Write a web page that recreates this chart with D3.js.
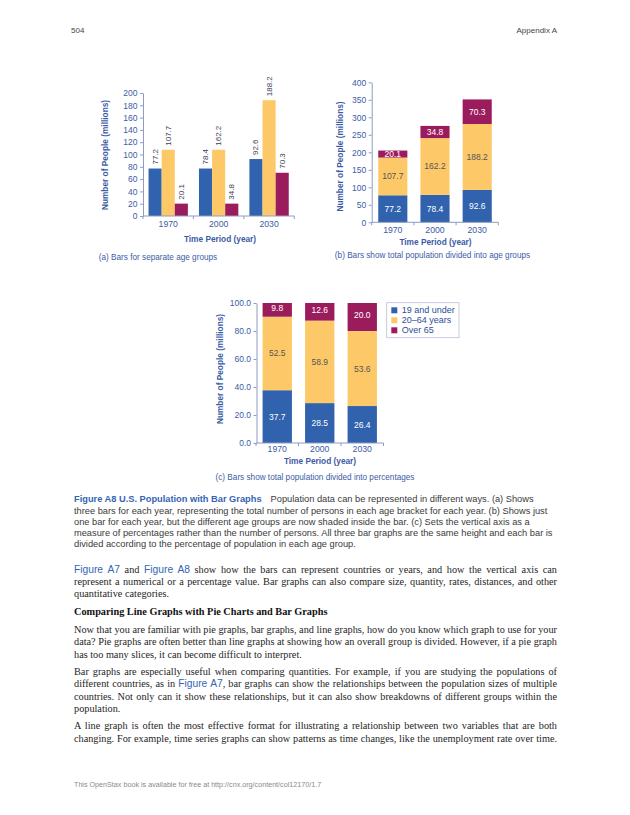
<!DOCTYPE html>
<html><head><meta charset="utf-8">
<script src="https://cdn.jsdelivr.net/npm/d3@7"></script>
<style>
html,body{margin:0;padding:0;background:#fff;}
svg{display:block;}
</style></head>
<body><svg id="page" width="630" height="815"></svg>
<script>
// ---------- data ----------
const years = ["1970", "2000", "2030"];
const ageGroups = ["19 and under", "20–64 years", "Over 65"];
const under19 = [77.2, 78.4, 92.6];
const age20to64 = [107.7, 162.2, 188.2];
const over65 = [20.1, 34.8, 70.3];
// bar heights as drawn in panel (a) of the source (its 2000 bars repeat the 1970 heights)
const drawnUnder19 = [77.2, 77.2, 92.6];
const drawnAge20to64 = [107.7, 107.7, 188.2];
const drawnOver65 = [20.1, 20.1, 70.3];
const pctUnder19 = [37.7, 28.5, 26.4];
const pctAge20to64 = [52.5, 58.9, 53.6];
const pctOver65 = [9.8, 12.6, 20.0];
const ticksA = [0, 20, 40, 60, 80, 100, 120, 140, 160, 180, 200];
const ticksB = [0, 50, 100, 150, 200, 250, 300, 350, 400];
const ticksC = [0, 20, 40, 60, 80, 100];

// ---------- style ----------
const SANS = "'Liberation Sans', Arial, Helvetica, sans-serif";
const SERIF = "'Liberation Serif', 'Times New Roman', serif";
const colors = ["#3162ad", "#fdc968", "#9b1c5d"];
const labelFill = ["#ffffff", "#555555", "#ffffff"];
const axisColor = "#8e9cc3";
const textBlue = "#3b5ca5";
const linkBlue = "#3565b3";

const svg = d3.select("#page");

function yAxis(g, y, x0, ticks, fmt) {
  const ax = d3.axisLeft(y).tickValues(ticks).tickSize(3).tickSizeOuter(0).tickPadding(2.5).tickFormat(fmt);
  const a = g.append("g").attr("transform", `translate(${x0},0)`).call(ax);
  a.select(".domain").attr("stroke", axisColor);
  a.selectAll(".tick line").attr("stroke", axisColor);
  a.selectAll(".tick text").attr("fill", textBlue).style("font-family", SANS).style("font-size", "8.5px");
}
function xAxis(g, x, y0, labelDy, titleY, titleX) {
  const [r0, r1] = x.range();
  g.append("line").attr("x1", r0).attr("x2", r1).attr("y1", y0).attr("y2", y0).attr("stroke", axisColor);
  const bounds = d3.range(x.domain().length + 1).map(i => r0 + i * x.step());
  g.selectAll(null).data(bounds).join("line")
    .attr("x1", d => d).attr("x2", d => d).attr("y1", y0).attr("y2", y0 + 3).attr("stroke", axisColor);
  g.selectAll(null).data(x.domain()).join("text")
    .attr("x", d => x(d) + x.bandwidth() / 2).attr("y", y0 + labelDy)
    .attr("text-anchor", "middle").attr("fill", textBlue)
    .style("font-family", SANS).style("font-size", "8.7px").text(d => d);
  g.append("text").attr("x", titleX).attr("y", titleY).attr("text-anchor", "middle")
    .attr("fill", textBlue).style("font-family", SANS).style("font-size", "8.3px").style("font-weight", "bold")
    .text("Time Period (year)");
}
function yTitle(g, cx, cy) {
  g.append("text").attr("transform", `translate(${cx},${cy}) rotate(-90)`)
    .attr("text-anchor", "middle").attr("dominant-baseline", "central")
    .attr("fill", textBlue).style("font-family", SANS).style("font-size", "8.3px").style("font-weight", "bold")
    .text("Number of People (millions)");
}
function caption(g, x, y, txt) {
  g.append("text").attr("x", x).attr("y", y).attr("text-anchor", "middle").attr("fill", textBlue)
    .style("font-family", SANS).style("font-size", "8.2px").text(txt);
}

// ---------- (a) grouped bars ----------
{
  const g = svg.append("g");
  const x = d3.scaleBand().domain(years).range([143, 294.3]).paddingInner(0.22).paddingOuter(0.11);
  const xs = d3.scaleBand().domain(ageGroups).range([0, x.bandwidth()]);
  const y = d3.scaleLinear().domain([0, 200]).range([216, 93]);
  const drawn = [drawnUnder19, drawnAge20to64, drawnOver65];
  const labels = [under19, age20to64, over65];
  const rows = [];
  years.forEach((yr, i) => ageGroups.forEach((ag, j) => rows.push({ yr, ag, j, h: drawn[j][i], v: labels[j][i] })));
  g.selectAll(null).data(rows).join("rect")
    .attr("x", d => x(d.yr) + xs(d.ag)).attr("width", xs.bandwidth())
    .attr("y", d => y(d.h)).attr("height", d => y(0) - y(d.h)).attr("fill", d => colors[d.j]);
  g.selectAll(null).data(rows).join("text")
    .attr("transform", d => `translate(${x(d.yr) + xs(d.ag) + xs.bandwidth() / 2},${y(d.h) - 4}) rotate(-90)`)
    .attr("dominant-baseline", "central").attr("fill", "#3d4156")
    .style("font-family", SANS).style("font-size", "8px").text(d => d.v.toFixed(1));
  yAxis(g, y, 143, ticksA, d3.format("d"));
  xAxis(g, x, 216, 11.3, 241.6, 220);
  yTitle(g, 105, 155);
  caption(g, 158, 259.5, "(a) Bars for separate age groups");
}

// ---------- (b) stacked totals ----------
{
  const g = svg.append("g");
  const x = d3.scaleBand().domain(years).range([371.7, 498.3]).paddingInner(0.31).paddingOuter(0.155);
  const y = d3.scaleLinear().domain([0, 400]).range([222.3, 82.3]);
  const series = [under19, age20to64, over65];
  const rows = [];
  years.forEach((yr, i) => {
    let base = 0;
    series.forEach((s, j) => { rows.push({ yr, j, y0: base, y1: base + s[i], v: s[i] }); base += s[i]; });
  });
  g.selectAll(null).data(rows).join("rect")
    .attr("x", d => x(d.yr)).attr("width", x.bandwidth())
    .attr("y", d => y(d.y1)).attr("height", d => y(d.y0) - y(d.y1)).attr("fill", d => colors[d.j]);
  g.selectAll(null).data(rows).join("text")
    .attr("x", d => x(d.yr) + x.bandwidth() / 2).attr("y", d => y((d.y0 + d.y1) / 2))
    .attr("text-anchor", "middle").attr("dominant-baseline", "central").attr("fill", d => labelFill[d.j])
    .style("font-family", SANS).style("font-size", "8.5px").text(d => d.v.toFixed(1));
  yAxis(g, y, 371.7, ticksB, d3.format("d"));
  xAxis(g, x, 222.3, 10.2, 244.6, 435.5);
  yTitle(g, 340, 156.5);
  caption(g, 432.5, 258.3, "(b) Bars show total population divided into age groups");
}

// ---------- (c) stacked percentages ----------
{
  const g = svg.append("g");
  const x = d3.scaleBand().domain(years).range([256, 383.5]).paddingInner(0.31).paddingOuter(0.155);
  const y = d3.scaleLinear().domain([0, 100]).range([443, 303]);
  const series = [pctUnder19, pctAge20to64, pctOver65];
  const rows = [];
  years.forEach((yr, i) => {
    let base = 0;
    series.forEach((s, j) => {
      const top = j === series.length - 1 ? 100 : base + s[i];
      rows.push({ yr, j, y0: base, y1: top, v: s[i] }); base += s[i];
    });
  });
  g.selectAll(null).data(rows).join("rect")
    .attr("x", d => x(d.yr)).attr("width", x.bandwidth())
    .attr("y", d => y(d.y1)).attr("height", d => y(d.y0) - y(d.y1)).attr("fill", d => colors[d.j]);
  g.selectAll(null).data(rows).join("text")
    .attr("x", d => x(d.yr) + x.bandwidth() / 2).attr("y", d => y((d.y0 + d.y1) / 2) - (d.j === 2 ? 2 : 0))
    .attr("text-anchor", "middle").attr("dominant-baseline", "central").attr("fill", d => labelFill[d.j])
    .style("font-family", SANS).style("font-size", "8.5px").text(d => d.v.toFixed(1));
  yAxis(g, y, 256.5, ticksC, d3.format(".1f"));
  xAxis(g, x, 443, 9.3, 463.6, 320);
  yTitle(g, 220, 369);
  caption(g, 315, 479.5, "(c) Bars show total population divided into percentages");

  // legend
  const lg = g.append("g");
  lg.append("rect").attr("x", 386.7).attr("y", 302.7).attr("width", 72.3).attr("height", 35)
    .attr("fill", "#fff").attr("stroke", "#b8c0d8").attr("stroke-width", 0.8);
  const ly = d3.scalePoint().domain(ageGroups).range([310.3, 330.3]);
  lg.selectAll(null).data(ageGroups).join("rect")
    .attr("x", 391.3).attr("y", d => ly(d) - 3).attr("width", 6).attr("height", 6)
    .attr("fill", (d, i) => colors[i]);
  lg.selectAll(null).data(ageGroups).join("text")
    .attr("x", 401.7).attr("y", d => ly(d)).attr("dominant-baseline", "central")
    .attr("fill", "#2f4d98").style("font-family", SANS).style("font-size", "9px").text(d => d);
}

// ---------- page text ----------
function measure(str, family, weight, size) {
  const t = svg.append("text").style("font-family", family).style("font-weight", weight).style("font-size", size + "px").text(str);
  const w = t.node().getComputedTextLength(); t.remove(); return w;
}
function fit(str, family, weight, target) { return 100 * target / measure(str, family, weight, 100); }

const LEFT = 74, RIGHT = 557;
function line(yc, parts, size, family, fill, justify) {
  const t = svg.append("text").attr("x", LEFT).attr("y", yc + 0.33 * size)
    .style("font-size", size + "px").style("font-family", family).attr("fill", fill);
  parts.forEach(p => {
    const ts = t.append("tspan").text(p.t);
    if (p.fill) ts.attr("fill", p.fill);
    if (p.weight) ts.style("font-weight", p.weight);
    if (p.family) ts.style("font-family", p.family);
    if (p.dx) ts.attr("dx", p.dx);
  });
  if (justify) {
    const w = t.node().getComputedTextLength();
    const full = parts.map(p => p.t).join("");
    const spaces = (full.match(/ /g) || []).length;
    if (spaces) t.style("word-spacing", ((RIGHT - LEFT) - w) / spaces + "px");
  }
  return t;
}

// header
svg.append("text").attr("x", 71).attr("y", 32.5).attr("fill", "#444").style("font-family", SANS).style("font-size", "8px").text("504");
svg.append("text").attr("x", RIGHT).attr("y", 32.5).attr("text-anchor", "end").attr("fill", "#444").style("font-family", SANS).style("font-size", "8px").text("Appendix A");

// figure caption
const capSize = fit("three bars for each year, representing the total number of persons in each age bracket for each year. (b) Shows just", SANS, "normal", 473.7);
const capColor = "#3a3a3a";
line(499.3, [{ t: "Figure A8 U.S. Population with Bar Graphs", weight: "bold", fill: linkBlue }, { t: "Population data can be represented in different ways. (a) Shows", dx: 9 }], capSize, SANS, capColor, false);
line(510.5, [{ t: "three bars for each year, representing the total number of persons in each age bracket for each year. (b) Shows just" }], capSize, SANS, capColor, false);
line(521.6, [{ t: "one bar for each year, but the different age groups are now shaded inside the bar. (c) Sets the vertical axis as a" }], capSize, SANS, capColor, false);
line(532.7, [{ t: "measure of percentages rather than the number of persons. All three bar graphs are the same height and each bar is" }], capSize, SANS, capColor, false);
line(543.8, [{ t: "divided according to the percentage of population in each age group." }], capSize, SANS, capColor, false);

// body text
const bodySize = fit("has too many slices, it can become difficult to interpret.", SERIF, "normal", 228);
const headSize = fit("Comparing Line Graphs with Pie Charts and Bar Graphs", SERIF, "bold", 253.7);
const bodyColor = "#1e1e1e";
const linkSize = bodySize * 1.0;
line(569.3, [{ t: "Figure A7", fill: linkBlue, family: SANS }, { t: " and " }, { t: "Figure A8", fill: linkBlue, family: SANS }, { t: " show how the bars can represent countries or years, and how the vertical axis can" }], bodySize, SERIF, bodyColor, true);
line(581.5, [{ t: "represent a numerical or a percentage value. Bar graphs can also compare size, quantity, rates, distances, and other" }], bodySize, SERIF, bodyColor, true);
line(593.5, [{ t: "quantitative categories." }], bodySize, SERIF, bodyColor, false);

line(611.7, [{ t: "Comparing Line Graphs with Pie Charts and Bar Graphs", weight: "bold" }], headSize, SERIF, "#111", false);

line(629.5, [{ t: "Now that you are familiar with pie graphs, bar graphs, and line graphs, how do you know which graph to use for your" }], bodySize, SERIF, bodyColor, true);
line(642, [{ t: "data? Pie graphs are often better than line graphs at showing how an overall group is divided. However, if a pie graph" }], bodySize, SERIF, bodyColor, true);
line(654.5, [{ t: "has too many slices, it can become difficult to interpret." }], bodySize, SERIF, bodyColor, false);

line(671.5, [{ t: "Bar graphs are especially useful when comparing quantities. For example, if you are studying the populations of" }], bodySize, SERIF, bodyColor, true);
line(684, [{ t: "different countries, as in " }, { t: "Figure A7", fill: linkBlue, family: SANS }, { t: ", bar graphs can show the relationships between the population sizes of multiple" }], bodySize, SERIF, bodyColor, true);
line(696.5, [{ t: "countries. Not only can it show these relationships, but it can also show breakdowns of different groups within the" }], bodySize, SERIF, bodyColor, true);
line(709, [{ t: "population." }], bodySize, SERIF, bodyColor, false);

line(726, [{ t: "A line graph is often the most effective format for illustrating a relationship between two variables that are both" }], bodySize, SERIF, bodyColor, true);
line(738.5, [{ t: "changing. For example, time series graphs can show patterns as time changes, like the unemployment rate over time." }], bodySize, SERIF, bodyColor, true);

// footer
const footSize = fit("This OpenStax book is available for free at http://cnx.org/content/col12170/1.7", SANS, "normal", 247.7);
line(784.3, [{ t: "This OpenStax book is available for free at http://cnx.org/content/col12170/1.7" }], footSize, SANS, "#8a8a8a", false);
</script>
</body></html>
